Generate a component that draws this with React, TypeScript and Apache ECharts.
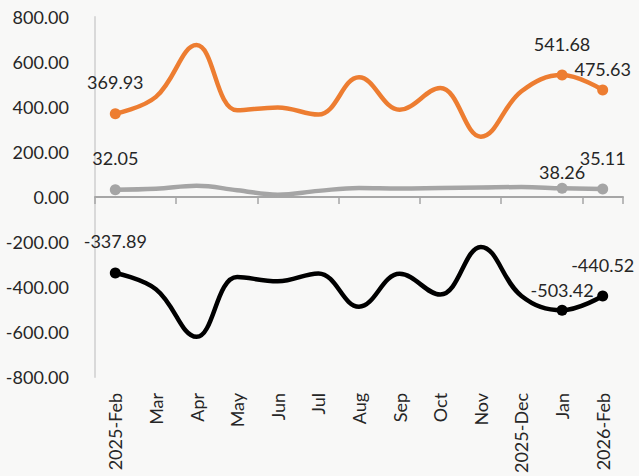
import React, { useEffect, useRef } from "react";
import * as echarts from "echarts";

const categories = ["2025-Feb", "Mar", "Apr", "May", "Jun", "Jul", "Aug", "Sep", "Oct", "Nov", "2025-Dec", "Jan", "2026-Feb"];
const orangeValues = [369.93, 445, 675, 385, 398, 366, 532, 388, 484, 268, 470, 541.68, 475.63];
const grayValues = [32.05, 36, 50, 30, 10, 27, 40, 38, 40, 42, 44, 38.26, 35.11];
const blackValues = [-337.89, -410, -622, -356, -375, -340, -488, -342, -434, -222, -440, -503.42, -440.52];
const yTicks = { min: -800, max: 800, interval: 200 };

const labelled = [0, 11, 12];

function buildData(values: number[], distances: Record<number, number>, color: string) {
  return values.map((v, i) => {
    if (!labelled.includes(i)) return { value: v };
    return {
      value: v,
      symbol: "circle",
      symbolSize: 11,
      itemStyle: { color },
      label: {
        show: true,
        position: "top",
        distance: distances[i],
        formatter: (p: any) => Number(p.value).toFixed(2),
        color: "#262626",
        fontSize: 18,
        fontFamily: "Lato",
      },
    };
  });
}

export default function App() {
  const ref = useRef<HTMLDivElement>(null);
  useEffect(() => {
    if (!ref.current) return;
    const chart = echarts.init(ref.current, undefined, { renderer: "svg" });
    const lineSeries = (name: string, values: number[], color: string, dist: Record<number, number>) => ({
      name,
      type: "line",
      xAxisIndex: 0,
      data: buildData(values, dist, color),
      smooth: 0.4,
      symbol: "none",
      showSymbol: true,
      lineStyle: { color, width: 4.5, cap: "round", join: "round" },
      itemStyle: { color },
    });
    chart.setOption({
      animation: false,
      backgroundColor: "#f8f8f7",
      grid: { left: 95, right: 16, top: 17, bottom: 99 },
      xAxis: [
        {
          type: "category",
          data: categories,
          boundaryGap: true,
          axisLine: { onZero: true, lineStyle: { color: "#a6a6a6", width: 2 } },
          axisTick: { show: true, length: 7, lineStyle: { color: "#a6a6a6", width: 1.5 } },
          axisLabel: { show: false },
        },
        {
          type: "category",
          data: categories,
          position: "bottom",
          boundaryGap: true,
          axisLine: { show: false, onZero: false },
          axisTick: { show: false },
          axisLabel: {
            show: true,
            rotate: 90,
            margin: 16,
            color: "#262626",
            fontSize: 18,
            fontFamily: "Lato",
            interval: 0,
          },
        },
      ],
      yAxis: {
        type: "value",
        min: yTicks.min,
        max: yTicks.max,
        interval: yTicks.interval,
        splitLine: { show: false },
        axisLine: { show: true, lineStyle: { color: "#d9d9d9", width: 2 } },
        axisTick: { show: false },
        axisLabel: {
          margin: 26,
          color: "#262626",
          fontSize: 18,
          fontFamily: "Lato",
          formatter: (v: number) => v.toFixed(2),
        },
      },
      series: [
        lineSeries("Orange", orangeValues, "#ed7d31", { 0: 17, 11: 17, 12: 6 }),
        lineSeries("Gray", grayValues, "#a5a5a5", { 0: 17, 11: 2, 12: 17 }),
        lineSeries("Black", blackValues, "#000000", { 0: 17, 11: 6, 12: 17 }),
      ],
    });
    return () => chart.dispose();
  }, []);
  return <div ref={ref} style={{ position: "fixed", left: 0, top: 0, width: 639, height: 476 }} />;
}
